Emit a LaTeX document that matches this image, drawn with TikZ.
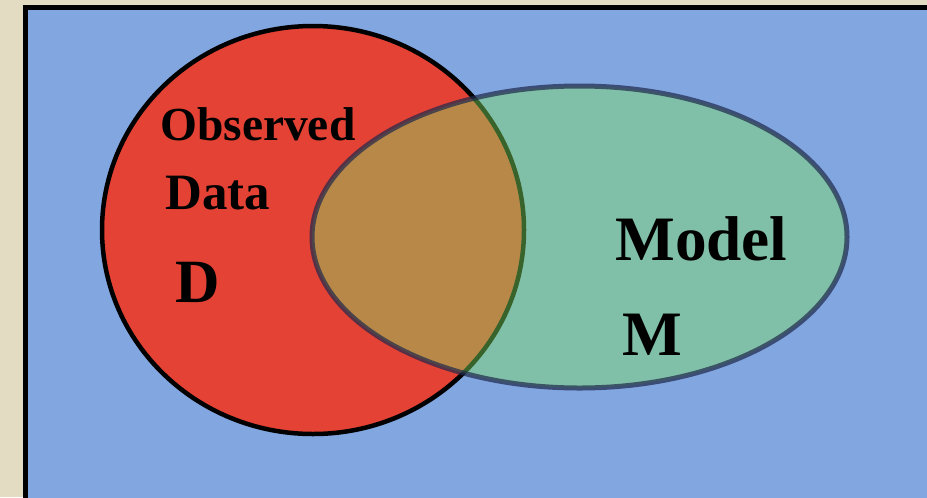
\documentclass[tikz,border=0pt]{standalone}
\usepackage{fontspec}
\setmainfont{Liberation Serif}

\definecolor{paper}{RGB}{228,220,194}
\definecolor{sky}{RGB}{130,166,224}
\definecolor{datared}{RGB}{227,66,52}
\definecolor{modelgreen}{RGB}{128,226,98}
\definecolor{modeledge}{RGB}{30,40,75}

\begin{document}
\begin{tikzpicture}[x=0.2mm,y=-0.2mm,
  label/.style={inner sep=0pt,anchor=base west,font=\bfseries}]
\clip (0,0) rectangle (927,497);
\fill[paper] (0,0) rectangle (927,497);
% frame
\draw[line width=1mm,fill=sky] (25.5,7.5) rectangle (960,530);
% data set and model set
\coordinate (dcenter) at (313,230);
\coordinate (mcenter) at (579.5,237);
\draw[line width=0.9mm,fill=datared] (dcenter) ellipse [x radius=211,y radius=204];
\draw[line width=1mm,draw=modeledge,draw opacity=0.7,
  fill=modelgreen,fill opacity=0.44] (mcenter) ellipse [x radius=267.5,y radius=151];
\node[label,font=\fontsize{27}{30}\selectfont\bfseries] (observed) at (160,140) {Observed};
\node[label,font=\fontsize{29}{32}\selectfont\bfseries] (data) at (165,209) {Data};
\node[label,font=\fontsize{35}{38}\selectfont\bfseries] (dsym) at (175,302) {D};
\node[label,font=\fontsize{36}{40}\selectfont\bfseries] (model) at (615,260) {Model};
\node[label,font=\fontsize{36}{40}\selectfont\bfseries] (msym) at (622,355) {M};
\end{tikzpicture}
\end{document}
